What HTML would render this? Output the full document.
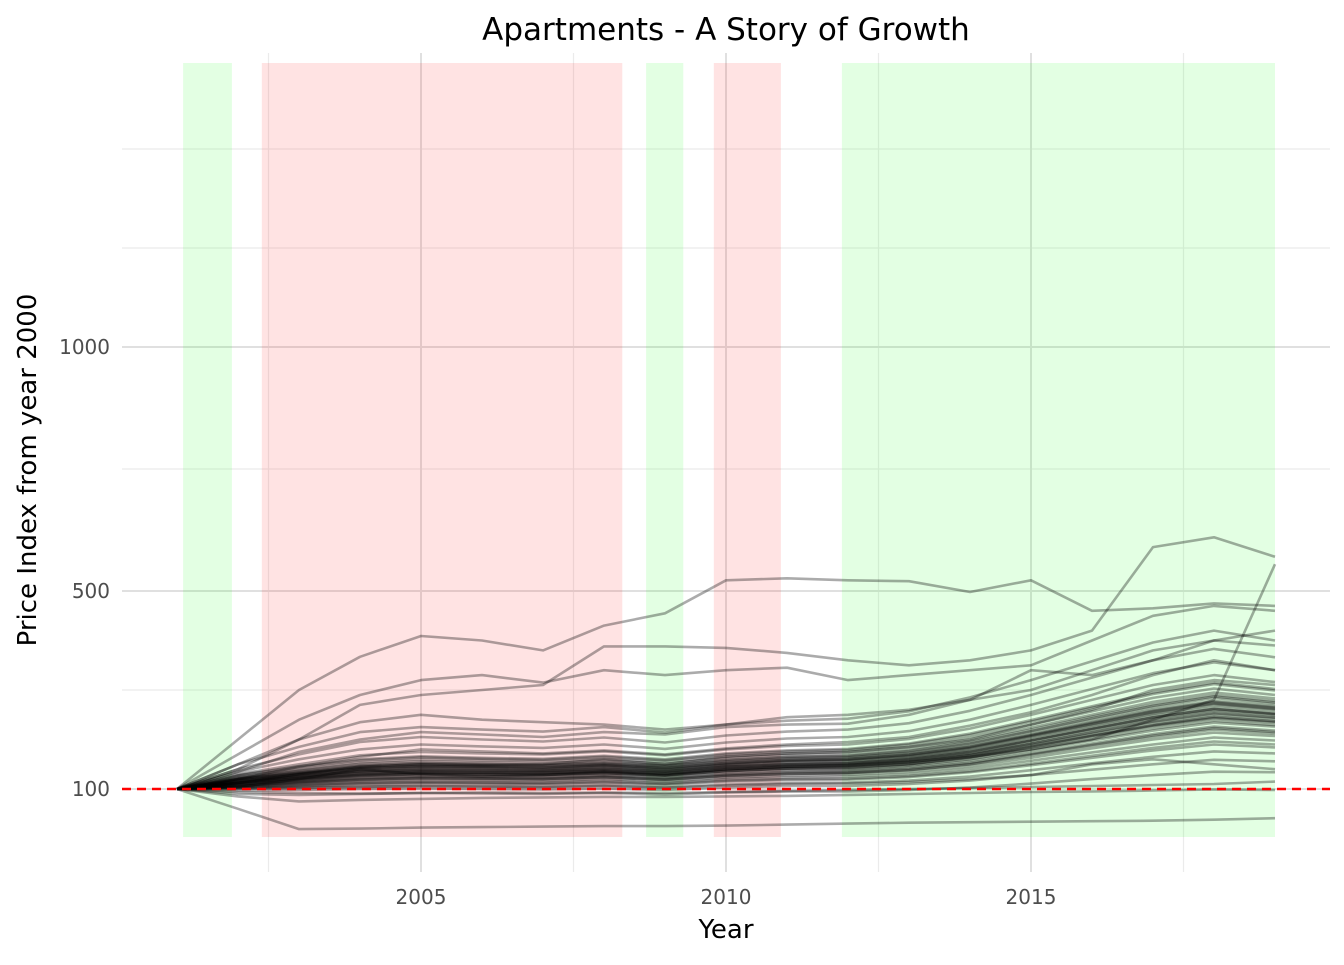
<!DOCTYPE html>
<html><head><meta charset="utf-8"><style>
html,body{margin:0;padding:0;background:#fff;}
text{font-family:"DejaVu Sans","Liberation Sans",sans-serif;}
</style></head><body>
<svg id="c" width="1344" height="960">
<g id="plot"></g>
<text x="726" y="40" text-anchor="middle" font-size="31" fill="#000">Apartments - A Story of Growth</text>
<text x="726" y="938" text-anchor="middle" font-size="26" fill="#000">Year</text>
<text transform="translate(36,470) rotate(-90)" text-anchor="middle" font-size="26" fill="#000">Price Index from year 2000</text>
</svg>
<script>
const years=[2001,2002,2003,2004,2005,2006,2007,2008,2009,2010,2011,2012,2013,2014,2015,2016,2017,2018,2019];
const xTicks=[2005,2010,2015];
const xMinor=[2002.5,2007.5,2012.5,2017.5];
const yTicks=[100,500,1000];
const yMinor=[300,750,1250,1500];
const greenPeriods=[[2001.1,2001.9],[2008.69,2009.3],[2011.9,2019.0]];
const redPeriods=[[2002.39,2008.3],[2009.8,2010.9]];
const series=[
[100,115,125,135,138,137,136,140,135,145,150,152,160,175,198,222,245,262,252],
[100,110,118,126,130,129,128,132,127,136,141,143,150,164,185,207,228,244,236],
[100,120,133,145,150,148,147,151,146,156,162,164,173,190,215,240,265,284,272],
[100,106,112,118,121,120,119,123,118,126,130,132,138,150,168,187,205,220,212],
[100,125,140,154,160,158,156,161,155,166,172,175,185,204,230,257,284,303,290],
[100,112,122,130,134,133,132,136,131,140,145,147,155,169,191,214,236,253,244],
[100,103,107,111,113,112,111,114,110,117,120,121,126,136,151,167,183,196,190],
[100,118,130,141,145,144,142,147,141,151,157,159,168,184,208,232,256,274,263],
[100,130,150,168,175,172,170,176,168,180,187,190,201,222,250,280,310,330,316],
[100,108,115,122,125,124,123,127,122,130,135,137,144,157,177,198,218,234,226],
[100,114,124,133,136,135,134,138,133,143,148,150,158,172,195,219,242,259,249],
[100,100,102,104,106,105,104,107,103,109,112,113,117,125,138,152,165,176,172],
[100,117,128,138,142,141,139,144,138,148,154,156,164,180,204,228,252,270,259],
[100,135,160,180,190,186,183,190,181,194,202,205,217,240,270,302,334,356,340],
[100,111,120,128,131,130,129,133,128,137,142,144,151,165,186,208,229,246,237],
[100,122,136,148,153,151,149,154,148,159,165,167,177,195,220,246,271,290,278],
[100,97,98,100,101,100,99,101,98,103,106,106,110,117,128,139,150,159,156],
[100,113,123,132,135,134,133,137,132,141,146,148,156,170,192,215,238,255,245],
[100,127,144,158,164,161,159,165,158,170,176,179,190,209,236,264,292,312,299],
[100,109,117,124,127,126,125,129,124,133,138,139,147,160,180,201,222,238,229],
[100,105,110,115,118,117,116,120,115,123,127,129,135,146,163,182,200,214,207],
[100,116,126,136,140,139,137,142,136,146,151,153,162,177,200,224,248,265,254],
[100,140,170,195,205,200,196,204,194,208,216,220,233,258,290,325,360,383,366],
[100,102,105,109,111,110,109,112,108,115,118,119,124,134,148,163,178,190,184],
[100,119,131,142,146,145,143,148,142,152,158,160,169,185,209,234,258,276,265],
[100,107,113,119,122,121,120,124,119,127,131,133,139,151,170,189,208,223,215],
[100,128,146,160,166,163,161,167,160,172,178,181,192,212,239,267,295,315,302],
[100,112,121,129,133,132,131,135,130,139,144,146,154,168,189,211,233,250,241],
[100,150,185,215,225,220,216,225,214,230,238,242,257,285,320,358,396,420,400],
[100,94,92,91,92,91,90,92,89,93,95,95,98,103,111,120,128,135,134],
[100,104,108,113,115,114,113,117,112,120,123,125,130,141,157,174,190,204,198],
[100,121,134,146,151,149,147,152,146,157,163,165,175,192,217,243,268,287,275],
[100,150,200,235,250,240,235,230,220,230,245,250,260,280,300,340,380,400,390],
[100,170,240,290,320,330,315,340,330,340,345,320,330,340,350,400,450,470,460],
[100,200,300,367,409,400,380,430,455,522,526,522,520,498,522,460,465,475,470],
[100,140,200,270,290,300,310,388,388,385,375,360,350,360,380,420,590,610,570],
[100,60,19,20,22,23,24,25,25,26,28,30,32,33,34,35,36,38,41],
[100,85,75,78,80,82,83,84,84,85,86,88,90,92,94,95,97,99,98],
[100,90,88,90,92,93,92,93,92,94,96,98,100,102,104,106,108,110,115],
[100,135,175,200,215,210,205,215,210,225,230,232,250,280,340,330,360,400,420],
[100,120,145,165,180,176,172,178,170,182,190,195,205,228,255,290,330,360,340],
[100,112,130,145,150,148,150,160,150,165,172,175,185,200,230,260,300,320,310],
[100,104,120,140,130,125,128,135,128,140,145,148,155,165,180,200,240,280,555],
[100,102,103,105,106,105,104,106,103,107,110,111,114,120,128,150,160,150,140],
[100,116,129,140,144,143,141,146,140,150,156,158,166,182,206,230,254,272,261],
[100,109,119,127,130,129,128,132,127,136,141,142,150,163,184,206,227,243,234],
[100,123,138,151,156,154,152,157,151,162,168,170,180,198,224,250,276,295,283],
[100,106,114,120,123,122,121,125,120,128,133,134,141,153,172,192,211,226,218],
[100,113,126,136,139,138,137,141,136,145,150,152,160,175,198,221,244,261,251],
[100,120,132,143,147,146,144,149,143,153,159,161,170,186,210,235,260,278,267]
];
const NS='http://www.w3.org/2000/svg';
const root=document.getElementById('plot');
function X(yr){return 421+(yr-2005)*61;}
function Y(v){
  if(v<=500) return 789-(v-100)*0.495;
  if(v<=1000) return 591-(v-500)*0.488;
  return 347-(v-1000)*0.396;
}
function add(tag,attrs,parent){const e=document.createElementNS(NS,tag);for(const k in attrs)e.setAttribute(k,attrs[k]);parent.appendChild(e);return e;}
const L=122,R=1330,T=63,B=837;
const grid=add('g',{},root);


yMinor.forEach(v=>{add('line',{x1:L,x2:R,y1:Y(v),y2:Y(v),stroke:'#ebebeb','stroke-width':1.2},grid);});
xMinor.forEach(v=>{add('line',{x1:X(v),x2:X(v),y1:T-10,y2:B+35,stroke:'#ebebeb','stroke-width':1.2},grid);});
yTicks.forEach(v=>{add('line',{x1:L,x2:R,y1:Y(v),y2:Y(v),stroke:'#e0e0e0','stroke-width':2},grid);});
xTicks.forEach(v=>{add('line',{x1:X(v),x2:X(v),y1:T-10,y2:B+35,stroke:'#e0e0e0','stroke-width':2},grid);});
greenPeriods.forEach(p=>{
  const r=add('rect',{x:X(p[0]),y:T,width:X(p[1])-X(p[0]),height:B-T,fill:'rgb(0,255,0)','fill-opacity':0.11},root);
  
  
});
redPeriods.forEach(p=>{
  const r=add('rect',{x:X(p[0]),y:T,width:X(p[1])-X(p[0]),height:B-T,fill:'rgb(255,0,0)','fill-opacity':0.11},root);
  
  
});
const lg=add('g',{},root);


series.forEach(s=>{
  const d=s.map((v,i)=>(i?'L':'M')+X(years[i]).toFixed(1)+','+Y(v).toFixed(1)).join('');
  const p=add('path',{d:d,fill:'none',stroke:'#000','stroke-opacity':0.33,'stroke-width':2.6,'stroke-linejoin':'round'},lg);
  
  
});
const ref=add('line',{x1:L,x2:R,y1:Y(100),y2:Y(100),stroke:'#ff0000','stroke-width':2.5,'stroke-dasharray':'9,6'},root);


yTicks.forEach(v=>{
  const t=add('text',{x:110,y:Y(v)+7,'text-anchor':'end','font-size':20,fill:'#4d4d4d'},root);
  t.textContent=v;
  
  
});
xTicks.forEach(v=>{
  const t=add('text',{x:X(v),y:904,'text-anchor':'middle','font-size':20,fill:'#4d4d4d'},root);
  t.textContent=v;
  
  
});
</script>
</body></html>
